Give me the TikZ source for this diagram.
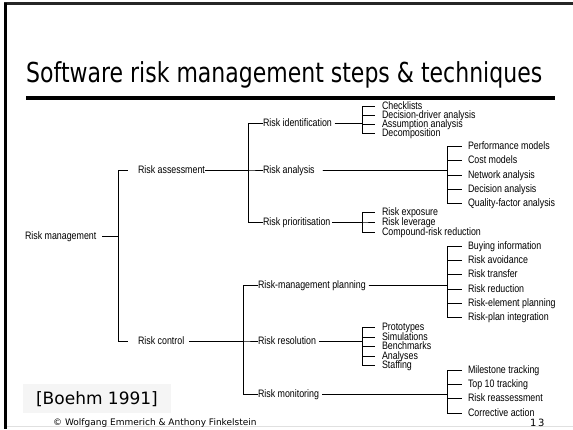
\documentclass[tikz,border=0pt]{standalone}
\usepackage{fontspec}
\usepackage{tikz}
\newfontfamily\treefont[FakeStretch=0.82]{Liberation Sans}
\newfontfamily\titlefont[FakeStretch=0.8]{DejaVu Sans}
\newfontfamily\notefont{DejaVu Sans}

\tikzset{
  lbl/.style={inner sep=0pt, outer sep=0pt, anchor=west, text height=7.5pt, text depth=0pt,
    font=\treefont\fontsize{10.8}{12}\selectfont},
  conn/.style={line width=0.9pt},
}

\begin{document}
\begin{tikzpicture}[x=1pt,y=-1pt]
\useasboundingbox (0,0) rectangle (573,429);
% slide frame
\draw[line width=2.5pt,black!85] (4,3.5) -- (573,3.5);
\draw[line width=3pt] (5.5,2.5) -- (5.5,429);
\draw[black!12,line width=1pt] (7,426.5) -- (573,426.5);
% title
\node[anchor=base west,inner sep=0pt,font=\titlefont\fontsize{27.5}{30}\selectfont] (title) at (26,82) {Software risk management steps \& techniques};
\draw[line width=4pt] (26,98) -- (555,98);

% bar positions
\coordinate (b0) at (118,0);
\coordinate (b1) at (248,0);
\coordinate (b2) at (243,0);
\coordinate (b3) at (362,0);
\coordinate (b4) at (447.5,0);

% steps
\node[lbl] (rm) at (25,236) {Risk management};
\node[lbl] (ra) at (138,170) {Risk assessment};
\node[lbl] (rc) at (138,341) {Risk control};
\node[lbl] (rid) at (263,123) {Risk identification};
\node[lbl] (ran) at (263,170) {Risk analysis};
\node[lbl] (rpr) at (263,222) {Risk prioritisation};
\node[lbl] (rmp) at (258,285) {Risk-management planning};
\node[lbl] (rres) at (258,341) {Risk resolution};
\node[lbl] (rmon) at (258,394) {Risk monitoring};

% techniques
\node[lbl] (id1) at (382,106) {Checklists};
\node[lbl] (id2) at (382,115) {Decision-driver analysis};
\node[lbl] (id3) at (382,124) {Assumption analysis};
\node[lbl] (id4) at (382,133) {Decomposition};
\node[lbl] (an1) at (468,146) {Performance models};
\node[lbl] (an2) at (468,160) {Cost models};
\node[lbl] (an3) at (468,175) {Network analysis};
\node[lbl] (an4) at (468,189) {Decision analysis};
\node[lbl] (an5) at (468,203) {Quality-factor analysis};
\node[lbl] (pr1) at (382,212) {Risk exposure};
\node[lbl] (pr2) at (382,222) {Risk leverage};
\node[lbl] (pr3) at (382,232) {Compound-risk reduction};
\node[lbl] (mp1) at (468,246) {Buying information};
\node[lbl] (mp2) at (468,260) {Risk avoidance};
\node[lbl] (mp3) at (468,274) {Risk transfer};
\node[lbl] (mp4) at (468,289) {Risk reduction};
\node[lbl] (mp5) at (468,303) {Risk-element planning};
\node[lbl] (mp6) at (468,317) {Risk-plan integration};
\node[lbl] (rs1) at (382,327) {Prototypes};
\node[lbl] (rs2) at (382,337) {Simulations};
\node[lbl] (rs3) at (382,346) {Benchmarks};
\node[lbl] (rs4) at (382,356) {Analyses};
\node[lbl] (rs5) at (382,365) {Staffing};
\node[lbl] (mo1) at (468,370) {Milestone tracking};
\node[lbl] (mo2) at (468,384) {Top 10 tracking};
\node[lbl] (mo3) at (468,398) {Risk reassessment};
\node[lbl] (mo4) at (468,413) {Corrective action};

% connectors
\foreach \c in {ra,rc}
  \draw[conn,shorten <=6pt,shorten >=10pt] (rm.east) -- (rm.east -| b0) |- (\c.west);
\foreach \c in {rid,ran,rpr}
  \draw[conn] (ra.east) -- (ra.east -| b1) |- (\c.west);
\foreach \c in {rmp,rres,rmon}
  \draw[conn,shorten <=5pt] (rc.east) -- (rc.east -| b2) |- (\c.west);
\foreach \c in {id1,id2,id3,id4}
  \draw[conn,shorten <=3pt,shorten >=7pt] (rid.east) -- (rid.east -| b3) |- (\c.west);
\foreach \c in {an1,an2,an3,an4,an5}
  \draw[conn,shorten <=8pt,shorten >=6pt] (ran.east) -- (ran.east -| b4) |- (\c.west);
\foreach \c in {pr1,pr2,pr3}
  \draw[conn,shorten <=2pt,shorten >=7pt] (rpr.east) -- (rpr.east -| b3) |- (\c.west);
\foreach \c in {mp1,mp2,mp3,mp4,mp5,mp6}
  \draw[conn,shorten <=3pt,shorten >=6pt] (rmp.east) -- (rmp.east -| b4) |- (\c.west);
\foreach \c in {rs1,rs2,rs3,rs4,rs5}
  \draw[conn,shorten <=3pt,shorten >=7pt] (rres.east) -- (rres.east -| b3) |- (\c.west);
\foreach \c in {mo1,mo2,mo3,mo4}
  \draw[conn,shorten <=3pt,shorten >=6pt] (rmon.east) -- (rmon.east -| b4) |- (\c.west);

% source and footer
\fill[black!4] (23,384) rectangle (171,413);
\node[inner sep=0pt,font=\notefont\fontsize{17}{20}\selectfont] (ref) at (97,399) {[Boehm 1991]};
\node[anchor=base west,inner sep=0pt,font=\notefont\fontsize{9}{10}\selectfont] (copy) at (53,425.5) {© Wolfgang Emmerich \& Anthony Finkelstein};
\node[anchor=base west,inner sep=0pt,font=\notefont\fontsize{10}{11}\selectfont] (page) at (530,426) {1\,3};
\end{tikzpicture}
\end{document}
